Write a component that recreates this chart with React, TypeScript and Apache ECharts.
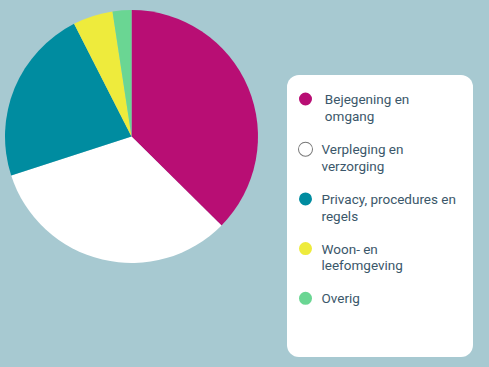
import React, { useEffect, useRef } from "react";
import * as echarts from "echarts";

const categories = [
  "Bejegening en omgang",
  "Verpleging en verzorging",
  "Privacy, procedures en regels",
  "Woon- en leefomgeving",
  "Overig",
];
const legendLines = [
  [" Bejegening en", " omgang"],
  ["Verpleging en", "verzorging"],
  ["Privacy, procedures en", "regels"],
  ["Woon- en", "leefomgeving"],
  ["Overig"],
];
const values = [37.4, 32.6, 22.5, 5.1, 2.4];
const colors = ["#b80e74", "#ffffff", "#008ca0", "#eeeb3c", "#6ad693"];

export default function App() {
  const ref = useRef<HTMLDivElement>(null);
  useEffect(() => {
    if (!ref.current) return;
    const chart = echarts.init(ref.current, undefined, { renderer: "svg" });
    const LH = 16.7;
    const rich: Record<string, any> = {
      t: { fontSize: 13.5, lineHeight: LH, color: "#3b576a", fontFamily: "Roboto" },
      g: { width: 9.5, height: 13, lineHeight: LH },
      ind: { width: 22.5, height: 13, lineHeight: LH },
    };
    colors.forEach((c, i) => {
      rich["d" + i] = {
        width: 13,
        height: 13,
        lineHeight: LH,
        borderRadius: 6.5,
        backgroundColor: c,
        borderColor: c === "#ffffff" ? "#777777" : c,
        borderWidth: c === "#ffffff" ? 1 : 0,
      };
    });
    chart.setOption({
      animation: false,
      backgroundColor: "#a7c9d1",
      graphic: [
        {
          type: "rect",
          z: -1,
          shape: { x: 287, y: 75, width: 186, height: 282, r: 12 },
          style: { fill: "#ffffff" },
        },
      ],
      legend: {
        orient: "vertical",
        left: 289,
        top: 92,
        padding: 0,
        icon: "none",
        itemWidth: 5,
        itemHeight: 13,
        itemGap: 19,
        selectedMode: false,
        data: categories,
        formatter: (name: string) => {
          const i = categories.indexOf(name);
          const lines = legendLines[i];
          return lines
            .map((l, k) =>
              k === 0 ? `{d${i}|}{g|}{t|${l}}` : `{ind|}{t|${l}}`
            )
            .join("\n");
        },
        textStyle: { rich },
      },
      series: [
        {
          type: "pie",
          center: [131.5, 136.5],
          radius: 126.5,
          startAngle: 90,
          clockwise: true,
          label: { show: false },
          labelLine: { show: false },
          emphasis: { disabled: true },
          data: categories.map((n, i) => ({
            name: n,
            value: values[i],
            itemStyle: { color: colors[i] },
          })),
        },
      ],
    });
    return () => chart.dispose();
  }, []);
  return (
    <div
      ref={ref}
      style={{ position: "fixed", left: 0, top: 0, width: 489, height: 367 }}
    />
  );
}
